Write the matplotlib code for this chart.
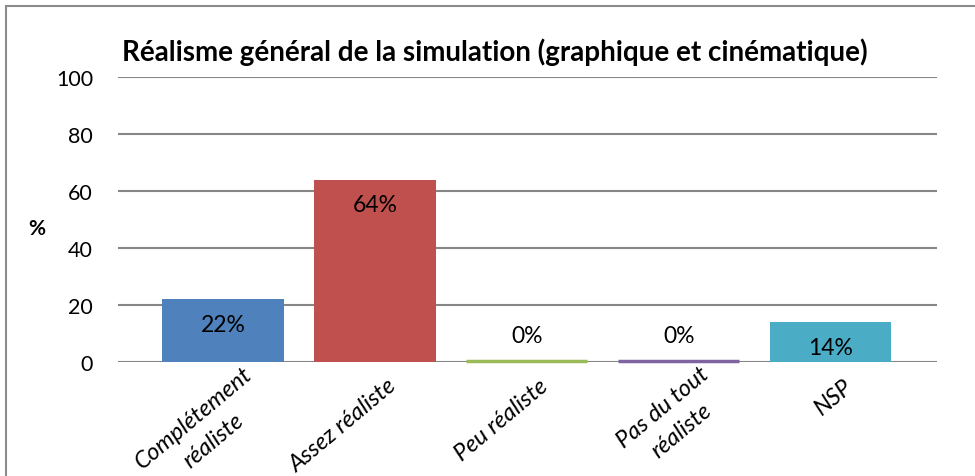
import matplotlib.pyplot as plt
import matplotlib.transforms as mtransforms
from matplotlib.patches import Rectangle

plt.rcParams['font.family'] = ['Lato', 'DejaVu Sans']

# Réponses au questionnaire
categories = ['Complétement\nréaliste', 'Assez réaliste', 'Peu réaliste',
              'Pas du tout\nréaliste', 'NSP']
valeurs = [22, 64, 0, 0, 14]
couleurs = ['#4f81bd', '#c0504d', '#9bbb59', '#8064a2', '#4bacc6']
etiquettes = ['22%', '64%', '0%', '0%', '14%']

fig = plt.figure(figsize=(9.75, 4.77), dpi=100)
ax = fig.add_axes([0.121, 0.239, 0.840, 0.597])

# Cadre du graphique
fig.patches.append(Rectangle((0.006, -0.1), 1.1, 1.085, transform=fig.transFigure,
                             fill=False, edgecolor='#8c8c8c', linewidth=1.5))

x = list(range(len(categories)))
ax.bar(x, valeurs, width=0.8, color=couleurs, zorder=3)
# barres nulles : un trait fin pour qu'elles restent visibles
for xi, v, c in zip(x, valeurs, couleurs):
    if v == 0:
        ax.hlines(v + 0.5, xi - 0.4, xi + 0.4, color=c, linewidth=2.5,
                  zorder=4, clip_on=False)

# Étiquettes de valeurs
for xi, v, txt in zip(x, valeurs, etiquettes):
    decal = -18 if v > 5 else 19
    ax.annotate(txt, (xi, v), xytext=(0, decal), textcoords='offset points',
                ha='center', va='center', fontsize=16.5, zorder=5)

ax.set_xlim(-0.69, 4.70)
ax.set_ylim(0, 100)
ax.set_yticks(range(0, 101, 20))
ax.yaxis.grid(True, color='#868686', linewidth=1.5, zorder=0)
ax.set_axisbelow(True)
for s in ax.spines.values():
    s.set_visible(False)
ax.tick_params(axis='y', length=0, pad=18, labelsize=15.5)
ax.tick_params(axis='x', length=0, pad=9)

ax.set_xticks(x)
ax.set_xticklabels(categories, rotation=40, ha='right', va='top',
                   rotation_mode='anchor', multialignment='center',
                   fontsize=17, style='italic')
for lab in ax.get_xticklabels():
    if '\n' in lab.get_text():
        # libellés sur deux lignes : remontés et plus espacés
        dx, dy = 20, 12
        lab.set_linespacing(1.55)
    else:
        dx, dy = 12, 0
    decalage = mtransforms.ScaledTranslation(dx / 100, dy / 100, fig.dpi_scale_trans)
    lab.set_transform(lab.get_transform() + decalage)

fig.text(0.508, 0.891, 'Réalisme général de la simulation (graphique et cinématique)',
         ha='center', va='center', fontsize=20, fontweight='bold')
fig.text(0.038, 0.52, '%', ha='center', va='center', fontsize=15, fontweight='bold')

fig.savefig('out.png', dpi=100)
